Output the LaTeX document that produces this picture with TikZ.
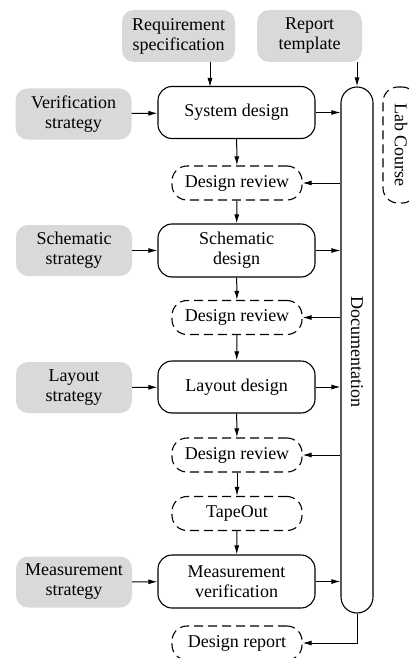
\documentclass[tikz,border=0pt]{standalone}
\usepackage{fontspec}
\setmainfont{Liberation Serif}
\usetikzlibrary{arrows.meta}
\begin{document}
\begin{tikzpicture}[x=1pt,y=-1pt,
  every node/.style={font=\fontsize{18}{20}\selectfont, align=center, inner sep=0pt},
  graybox/.style={fill=black!15, draw=none, rounded corners=12pt, minimum width=116pt, minimum height=51pt},
  designbox/.style={draw, line width=1.1pt, rounded corners=14pt, minimum width=157pt, minimum height=52pt},
  dashbox/.style={draw, line width=1.1pt, dash pattern=on 9pt off 5pt, rounded corners=15pt, minimum width=130pt, minimum height=34pt},
  arr/.style={line width=1pt, -{Latex[length=9pt,width=5pt]}}
]
\path[use as bounding box, clip] (0,0) rectangle (409,658);
% gray inputs
\node[graybox, minimum width=113pt, minimum height=52pt] (req) at (178.5,36) {Requirement\\specification};
\node[graybox, minimum width=105pt, minimum height=52pt] (rep) at (309.5,36) {Report\\template};
\node[graybox] (ver) at (73.5,114) {Verification\\strategy};
\node[graybox] (schs) at (74,250.5) {Schematic\\strategy};
\node[graybox] (lays) at (74,387.5) {Layout\\strategy};
\node[graybox] (meass) at (74,582) {Measurement\\strategy};
% design boxes
\node[designbox] (sys) at (236.5,112.5) {System design};
\node[designbox, minimum height=53pt] (schd) at (236.5,250.5) {Schematic\\design};
\node[designbox] (layd) at (236.5,387) {Layout design};
\node[designbox, minimum height=53pt] (meas) at (236.5,581.5) {Measurement\\verification};
% dashed boxes
\node[dashbox] (dr1) at (237,183) {Design review};
\node[dashbox] (dr2) at (237,317.5) {Design review};
\node[dashbox] (dr3) at (237,455) {Design review};
\node[dashbox] (tape) at (237,513.5) {TapeOut};
\node[dashbox] (drep) at (237,643) {Design report};
% documentation column
\node[draw, line width=1.1pt, rounded corners=16pt, minimum width=32pt, minimum height=526pt] (doc) at (357,350) {};
\node[rotate=-90] (doct) at (357,352) {Documentation};
% lab course
\node[draw, line width=1.1pt, dash pattern=on 9pt off 5pt, rounded corners=15pt, minimum width=34pt, minimum height=116pt] (lab) at (400,145) {};
\node[rotate=-90] (labt) at (401,145) {Lab Course};
% arrows
\coordinate (reqs) at (210,62);
\coordinate (sysn) at (210,87);
\draw[arr] (reqs) -- (sysn);
\draw[arr] (rep.south -| doc.north) -- (doc.north);
\draw[arr] (ver) -- (sys);
\draw[arr] (schs) -- (schd);
\draw[arr] (lays) -- (layd);
\draw[arr] (meass) -- (meas);
\draw[arr] (sys.east) -- (sys.east -| doc.west);
\draw[arr] (schd.east) -- (schd.east -| doc.west);
\draw[arr] (layd.east) -- (layd.east -| doc.west);
\draw[arr] (meas.east) -- (meas.east -| doc.west);
\draw[arr] (dr1.east -| doc.west) -- (dr1.east);
\draw[arr] (dr2.east -| doc.west) -- (dr2.east);
\draw[arr] (dr3.east -| doc.west) -- (dr3.east);
\draw[arr] (doc.south) |- (drep.east);
\draw[arr] (sys) -- (dr1);
\draw[arr] (dr1) -- (schd);
\draw[arr] (schd) -- (dr2);
\draw[arr] (dr2) -- (layd);
\draw[arr] (layd) -- (dr3);
\draw[arr] (dr3) -- (tape);
\draw[arr] (tape) -- (meas);
\end{tikzpicture}
\end{document}
